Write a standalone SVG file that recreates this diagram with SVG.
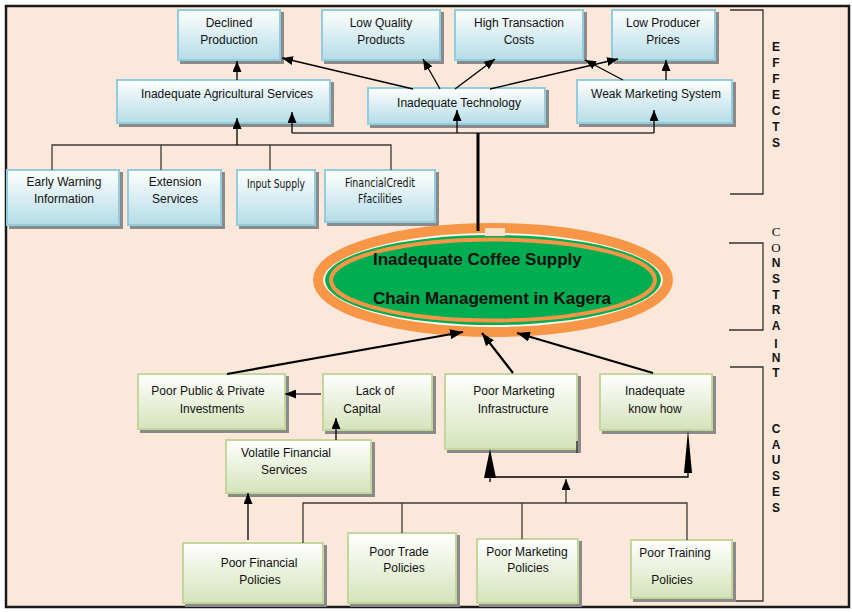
<svg xmlns="http://www.w3.org/2000/svg" width="852" height="612" viewBox="0 0 852 612">
<defs>
<linearGradient id="gBlue" x1="0" y1="0" x2="0" y2="1"><stop offset="0" stop-color="#FFFFFF"/><stop offset="1" stop-color="#B4DCE7"/></linearGradient>
<linearGradient id="gGreen" x1="0" y1="0" x2="0" y2="1"><stop offset="0" stop-color="#FFFFFF"/><stop offset="1" stop-color="#D5E3BA"/></linearGradient>
<filter id="sh" x="-10%" y="-10%" width="130%" height="130%"><feOffset in="SourceAlpha" dx="3" dy="3" result="o"/><feFlood flood-color="#8a8a8a"/><feComposite in2="o" operator="in"/><feMerge><feMergeNode/><feMergeNode in="SourceGraphic"/></feMerge></filter>
<marker id="ah" markerUnits="userSpaceOnUse" markerWidth="11" markerHeight="9" refX="11" refY="4.5" orient="auto"><path d="M0,0 L11,4.5 L0,9 z" fill="#000"/></marker>
<marker id="ahb" markerUnits="userSpaceOnUse" markerWidth="13" markerHeight="10" refX="13" refY="5" orient="auto"><path d="M0,0 L13,5 L0,10 z" fill="#000"/></marker>
</defs>
<style>
.bx{fill:url(#gBlue);stroke:#93CDDD;stroke-width:2;filter:url(#sh)}
.gx{fill:url(#gGreen);stroke:#C3D69B;stroke-width:2;filter:url(#sh)}
.t{font-family:"Liberation Sans",Arial,sans-serif;font-size:12px;fill:#111;text-anchor:middle}
.tn{font-family:"Liberation Sans Narrow","Arial Narrow","DejaVu Sans Condensed",sans-serif;font-size:12px;fill:#111;text-anchor:middle}
.lt{font-family:"Liberation Sans",Arial,sans-serif;font-size:12px;font-weight:bold;fill:#111;text-anchor:middle}
.ls{font-family:"Liberation Serif","Times New Roman",serif;font-size:13px;fill:#111;text-anchor:middle}
.et{font-family:"Liberation Sans",Arial,sans-serif;font-size:17px;font-weight:bold;fill:#111}
.c{fill:none;stroke:#000;stroke-width:1.3}
.cg{fill:none;stroke:#3a3a3a;stroke-width:1.3}
.ck{fill:none;stroke:#000;stroke-width:2.2}
.br{fill:none;stroke:#333;stroke-width:1.3}
</style>
<rect x="0" y="0" width="852" height="612" fill="#FFFFFF"/>
<rect x="6" y="6" width="843" height="601" fill="#FCE8DA" stroke="#1a1a1a" stroke-width="2.5"/>

<g id="brackets">
<path class="br" d="M730,10 H763 V194 H730"/>
<path class="br" d="M729,243 H763 V330 H729"/>
<path class="br" d="M730,367 H763 V601 H732"/>
<text class="lt" x="776" y="51">E</text>
<text class="lt" x="776" y="67">F</text>
<text class="lt" x="776" y="83">F</text>
<text class="lt" x="776" y="99">E</text>
<text class="lt" x="776" y="115">C</text>
<text class="lt" x="776" y="131">T</text>
<text class="lt" x="776" y="147">S</text>
<text class="ls" x="776" y="236">C</text>
<text class="ls" x="776" y="252">O</text>
<text class="lt" x="776" y="267">N</text>
<text class="lt" x="776" y="283">S</text>
<text class="lt" x="776" y="299">T</text>
<text class="lt" x="776" y="314">R</text>
<text class="lt" x="776" y="330">A</text>
<text class="lt" x="776" y="348">I</text>
<text class="lt" x="776" y="362">N</text>
<text class="lt" x="776" y="377">T</text>
<text class="lt" x="776" y="433">C</text>
<text class="lt" x="776" y="449">A</text>
<text class="lt" x="776" y="464">U</text>
<text class="lt" x="776" y="480">S</text>
<text class="lt" x="776" y="496">E</text>
<text class="lt" x="776" y="512">S</text>
</g>

<g id="declined-production"><rect class="bx" x="178" y="10" width="102" height="50"/><text class="t" x="229" y="27">Declined</text><text class="t" x="229" y="44">Production</text></g>
<g id="low-quality-products"><rect class="bx" x="322" y="10" width="118" height="50"/><text class="t" x="381" y="27">Low Quality</text><text class="t" x="381" y="44">Products</text></g>
<g id="high-transaction-costs"><rect class="bx" x="455" y="10" width="128" height="50"/><text class="t" x="519" y="27">High Transaction</text><text class="t" x="519" y="44">Costs</text></g>
<g id="low-producer-prices"><rect class="bx" x="612" y="10" width="103" height="50"/><text class="t" x="663" y="27">Low Producer</text><text class="t" x="663" y="44">Prices</text></g>

<g id="inadequate-agricultural-services"><rect class="bx" x="117" y="80" width="213" height="43"/><text class="t" x="227" y="98">Inadequate Agricultural Services</text></g>
<g id="inadequate-technology"><rect class="bx" x="368" y="88" width="177" height="36"/><text class="t" x="459" y="107">Inadequate Technology</text></g>
<g id="weak-marketing-system"><rect class="bx" x="577" y="80" width="155" height="43"/><text class="t" x="656" y="98">Weak Marketing System</text></g>

<g id="early-warning-information"><rect class="bx" x="7" y="170" width="112" height="55"/><text class="t" x="64" y="186">Early Warning</text><text class="t" x="64" y="203">Information</text></g>
<g id="extension-services"><rect class="bx" x="128" y="170" width="93" height="55"/><text class="t" x="175" y="186">Extension</text><text class="t" x="175" y="203">Services</text></g>
<g id="input-supply"><rect class="bx" x="237" y="170" width="78" height="55"/><text class="tn" x="276" y="188" textLength="58" lengthAdjust="spacingAndGlyphs">Input Supply</text></g>
<g id="financial-credit-facilities"><rect class="bx" x="325" y="170" width="110" height="52"/><text class="tn" x="380" y="187" textLength="70" lengthAdjust="spacingAndGlyphs">FinancialCredit</text><text class="tn" x="380" y="203" textLength="44" lengthAdjust="spacingAndGlyphs">Ffacilities</text></g>

<g id="constraint">
<ellipse cx="493" cy="280" rx="175" ry="52" fill="#FFF6EF" stroke="#F79646" stroke-width="10"/>
<ellipse cx="493" cy="280" rx="168" ry="45" fill="#00AD50"/>
<ellipse cx="493" cy="280" rx="162" ry="40.5" fill="#00AD50" stroke="#F79646" stroke-width="4"/>
<rect x="485" y="228" width="20" height="8" fill="#FBE0CC"/>
<text class="et" x="373" y="265">Inadequate Coffee Supply</text>
<text class="et" x="373" y="304">Chain Management in Kagera</text>
</g>

<g id="poor-public-private-investments"><rect class="gx" x="138" y="374" width="147" height="55"/><text class="t" x="208" y="395">Poor Public &amp; Private</text><text class="t" x="212" y="413">Investments</text></g>
<g id="lack-of-capital"><rect class="gx" x="323" y="374" width="109" height="56"/><text class="t" x="375" y="395">Lack of</text><text class="t" x="362" y="413">Capital</text></g>
<g id="poor-marketing-infrastructure"><rect class="gx" x="445" y="374" width="132" height="75"/><line x1="577" y1="441" x2="577" y2="453" stroke="#333" stroke-width="1.5"/><text class="t" x="514" y="395">Poor Marketing</text><text class="t" x="513" y="413">Infrastructure</text></g>
<g id="inadequate-know-how"><rect class="gx" x="600" y="374" width="112" height="56"/><text class="t" x="655" y="395">Inadequate</text><text class="t" x="655" y="413">know how</text></g>
<g id="volatile-financial-services"><rect class="gx" x="226" y="440" width="145" height="53"/><text class="t" x="286" y="457">Volatile Financial</text><text class="t" x="284" y="474">Services</text></g>
<g id="poor-financial-policies"><rect class="gx" x="183" y="543" width="140" height="60"/><text class="t" x="259" y="567">Poor Financial</text><text class="t" x="260" y="584">Policies</text></g>
<g id="poor-trade-policies"><rect class="gx" x="348" y="533" width="108" height="70"/><text class="t" x="399" y="556">Poor Trade</text><text class="t" x="404" y="572">Policies</text></g>
<g id="poor-marketing-policies"><rect class="gx" x="477" y="539" width="101" height="64"/><text class="t" x="527" y="556">Poor Marketing</text><text class="t" x="528" y="572">Policies</text></g>
<g id="poor-training-policies"><rect class="gx" x="631" y="540" width="101" height="58"/><text class="t" x="675" y="557">Poor Training</text><text class="t" x="672" y="584">Policies</text></g>

<g id="connectors">
<path class="cg" d="M52,170 V145 H391 V170 M161,145 V170 M270,145 V170"/>
<path class="c" d="M237,145 V118" marker-end="url(#ah)"/>
<path class="cg" d="M292,133 H654"/>
<path class="c" d="M292,133 V112" marker-end="url(#ah)"/>
<path class="c" d="M457,133 V110" marker-end="url(#ah)"/>
<path class="c" d="M654,133 V110" marker-end="url(#ah)"/>
<path d="M478,133 V231" fill="none" stroke="#000" stroke-width="3"/>
<path class="c" d="M237,80 V61" marker-end="url(#ah)"/>
<path class="c" d="M413,89 L282,58" marker-end="url(#ah)"/>
<path class="c" d="M440,89 L423,59" marker-end="url(#ah)"/>
<path class="c" d="M455,89 L495,59" marker-end="url(#ah)"/>
<path class="c" d="M490,89 L618,59" marker-end="url(#ah)"/>
<path class="c" d="M623,80 L585,60" marker-end="url(#ah)"/>
<path class="c" d="M666,80 V60" marker-end="url(#ah)"/>

<path class="ck" d="M227,374 L463,332" marker-end="url(#ahb)"/>
<path class="ck" d="M513,373 L482,333" marker-end="url(#ahb)"/>
<path class="ck" d="M653,373 L517,333" marker-end="url(#ahb)"/>
<path class="cg" d="M321,394 H285" marker-end="url(#ah)"/>
<path class="c" d="M336,440 V418" marker-end="url(#ah)"/>
<path class="c" d="M248,540 V493" marker-end="url(#ah)"/>
<path class="cg" d="M303,543 V503 H687 V540 M402,503 V533 M522,503 V539"/>
<path class="cg" d="M566,503 V479" marker-end="url(#ah)"/>
<path class="c" d="M490,482 V477 H688 V470"/>
<polygon points="484,478 496,478 490,449" fill="#000"/>
<polygon points="684,473 692,473 688,430" fill="#000"/>
</g>
</svg>
